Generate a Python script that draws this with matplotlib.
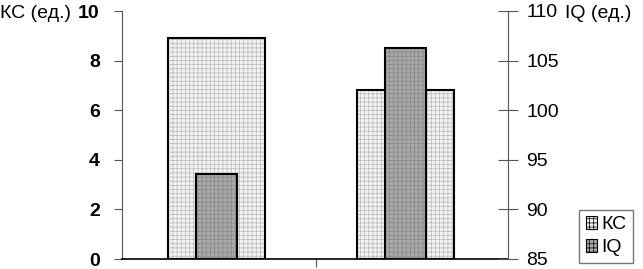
import matplotlib
matplotlib.use("Agg")
import matplotlib.pyplot as plt
from matplotlib.patches import Patch

plt.rcParams['font.family'] = ['Liberation Sans', 'DejaVu Sans']
plt.rcParams['hatch.linewidth'] = 0.5

groups = ['1', '2']
kc = [8.9, 6.8]
iq = [93.6, 106.3]
kc_ticks = [0, 2, 4, 6, 8, 10]
iq_ticks = [85, 90, 95, 100, 105, 110]

fig = plt.figure(figsize=(6.43, 2.69), dpi=100)
ax = fig.add_axes([122/643, 10/269, 386/643, 248/269])
ax2 = ax.twinx()

x = [0.49, 1.47]
# wide КС bars: hatch layer then black outline
ax.bar(x, kc, width=0.5, color='#f2f2f2', edgecolor='#b8b8b8', hatch='++++', linewidth=0, zorder=2)
ax.bar(x, kc, width=0.5, fill=False, edgecolor='black', linewidth=1.5, zorder=3)
ax2.bar(x, [v - 85 for v in iq], bottom=85, width=0.21, color='#a8a8a8', edgecolor='#888888', hatch='++++', linewidth=0, zorder=2)
ax2.bar(x, [v - 85 for v in iq], bottom=85, width=0.21, fill=False, edgecolor='black', linewidth=1.5, zorder=3)

ax.set_xlim(0, 2)
ax.set_ylim(0, 10)
ax2.set_ylim(85, 110)
ax.set_yticks(kc_ticks)
ax.set_yticklabels([str(t) for t in kc_ticks], fontsize=14, fontweight='bold')
ax2.set_yticks(iq_ticks)
ax2.set_yticklabels([str(t) for t in iq_ticks], fontsize=14)
ax.set_xticks([1.005])
ax.set_xticklabels([''])
ax.tick_params(axis='x', direction='out', length=6, color='#555555')
ax.tick_params(axis='y', direction='out', length=6, color='#555555', pad=10)
ax2.tick_params(axis='y', direction='inout', length=14, color='#555555', pad=6)

for a in (ax, ax2):
    a.spines['top'].set_visible(False)
    a.patch.set_visible(False)
ax.spines['right'].set_visible(False)
ax2.spines['left'].set_visible(False)
ax2.spines['bottom'].set_visible(False)
ax.spines['left'].set_color('#555555')
ax2.spines['right'].set_color('#555555')
ax.spines['bottom'].set_color('black')
ax.spines['bottom'].set_linewidth(1.2)

fig.text(0/643, 1 - 13/269, 'КС (ед.)', fontsize=14, va='center', ha='left')
fig.text(565/643, 1 - 13/269, 'IQ (ед.)', fontsize=14, va='center', ha='left')

handles = [Patch(facecolor='#f2f2f2', edgecolor='black', hatch='++++', linewidth=0.8),
           Patch(facecolor='#a8a8a8', edgecolor='black', hatch='++++', linewidth=0.8)]
leg = fig.legend(handles, ['КС', 'IQ'], loc='lower right', bbox_to_anchor=(633/643, 6/269),
                 fontsize=14, frameon=True, fancybox=False, edgecolor='#555555',
                 handlelength=0.6, handleheight=0.6, handletextpad=0.2,
                 borderpad=0.35, labelspacing=0.3, borderaxespad=0)
leg.get_frame().set_linewidth(1.0)

fig.savefig('out.png', dpi=100)
